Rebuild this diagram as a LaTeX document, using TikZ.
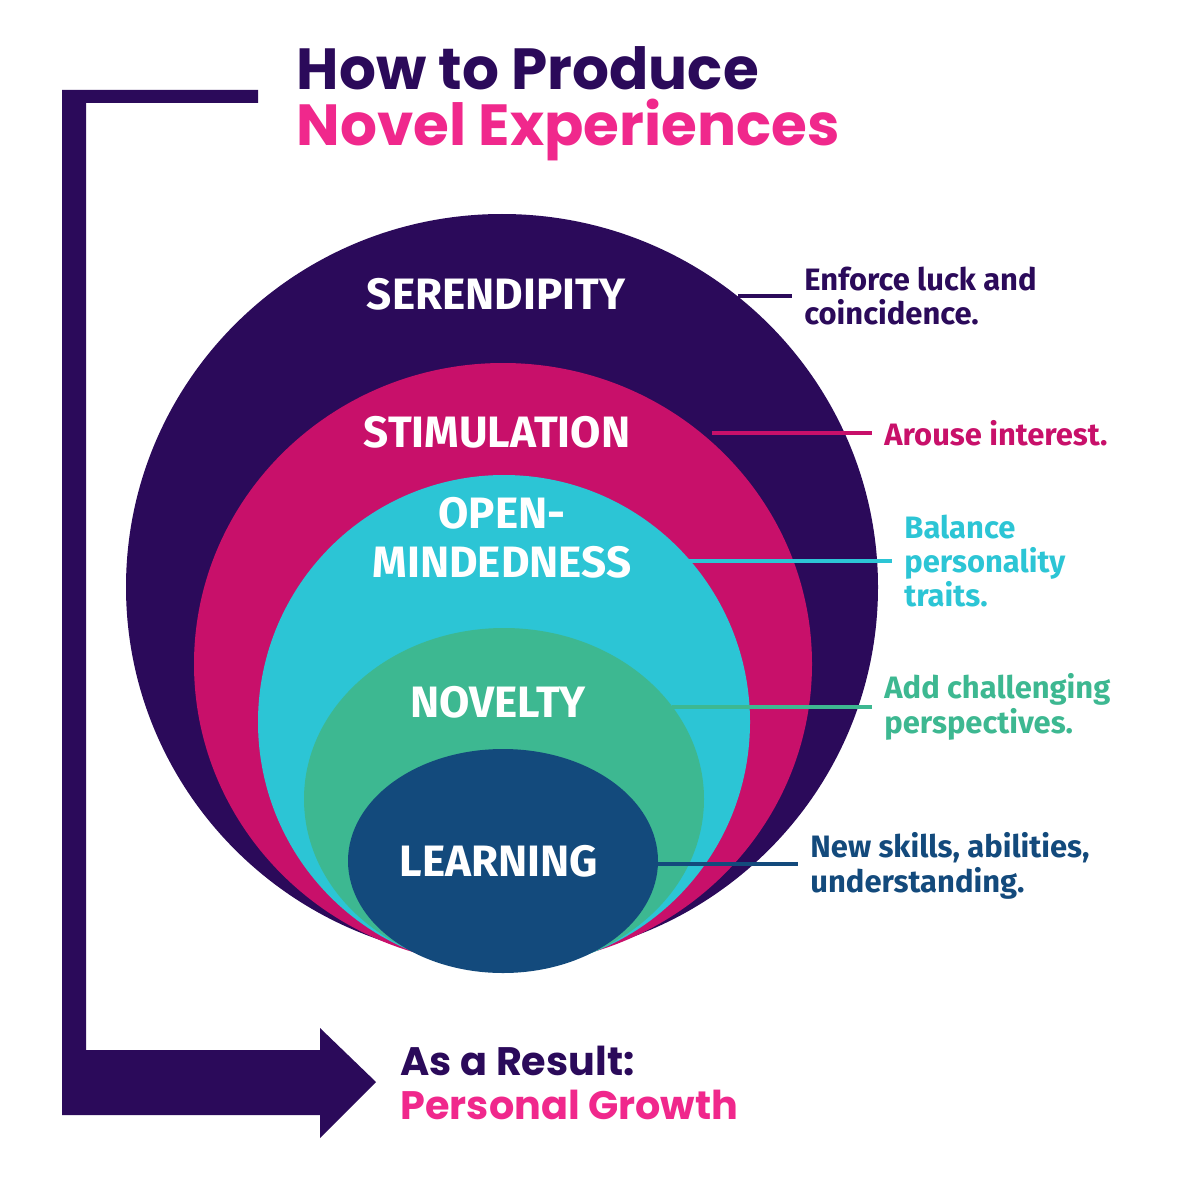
\documentclass[tikz,border=0pt]{standalone}
\usepackage{fontspec}
\setmainfont{Fira Sans}
\newfontfamily\titlef{Poppins}
\definecolor{dpurple}{HTML}{2B0A5A}
\definecolor{mag}{HTML}{C8106A}
\definecolor{pink}{HTML}{F0288C}
\definecolor{cyanc}{HTML}{2CC5D5}
\definecolor{greenc}{HTML}{3DB891}
\definecolor{bluec}{HTML}{134A7C}
\begin{document}
\begin{tikzpicture}[x=0.01cm,y=-0.01cm,
  lab/.style={text=white,font=\fontsize{12.5}{14}\selectfont\bfseries,align=center},
  side/.style={anchor=west,align=left,font=\fontsize{8.8}{9.8}\selectfont\bfseries},
  conn/.style={line width=1.1pt}]
\useasboundingbox (0,0) rectangle (1188,1188);
\fill[white] (0,0) rectangle (1188,1188);
\fill[dpurple] (502,587) ellipse [x radius=376,y radius=373];
\fill[mag] (503,664) ellipse [x radius=309,y radius=301];
\fill[cyanc] (504,722) ellipse [x radius=246,y radius=247];
\fill[greenc] (504,799) ellipse [x radius=200,y radius=171];
\fill[bluec] (503,861) ellipse [x radius=155,y radius=112];
\node[lab] (s1) at (496,294) {SERENDIPITY};
\node[lab] (s2) at (497,432) {STIMULATION};
\node[lab,text height=9pt] (s3) at (502,562) {OPEN-\\MINDEDNESS};
\node[lab] (s4) at (498,702) {NOVELTY};
\node[lab] (s5) at (499,861) {LEARNING};
% side texts
\node[side,text=dpurple] (t1) at (792,296) {Enforce luck and\\coincidence.};
\node[side,text=mag] (t2) at (872,433) {Arouse interest.};
\node[side,text=cyanc] (t3) at (892,561) {Balance\\personality\\traits.};
\node[side,text=greenc] (t4) at (872,707) {Add challenging\\perspectives.};
\node[side,text=bluec] (t5) at (798,866) {New skills, abilities,\\understanding.};
\coordinate (c1) at (738,296); \coordinate (c2) at (712,433);
\coordinate (c3) at (688,561); \coordinate (c4) at (672,707);
\coordinate (c5) at (658,864);
\draw[conn,dpurple] (c1) -- (t1.west|-c1);
\draw[conn,mag] (c2) -- (t2.west|-c2);
\draw[conn,cyanc] (c3) -- (t3.west|-c3);
\draw[conn,greenc] (c4) -- (t4.west|-c4);
\draw[conn,bluec] (c5) -- (t5.west|-c5);
% bracket arrow
\fill[dpurple] (258,90) -- (62,90) -- (62,1115) -- (320,1115) -- (320,1138) -- (376,1082) -- (320,1028) -- (320,1050) -- (86,1050) -- (86,103) -- (258,103) -- cycle;
% titles
\node[anchor=base west,inner sep=0,text=dpurple,font=\titlef\fontsize{16.5}{18}\selectfont\bfseries] (h1) at (296,90) {How to Produce};
\node[anchor=base west,inner sep=0,text=pink,font=\titlef\fontsize{16.5}{18}\selectfont\bfseries] (h2) at (296,146) {Novel Experiences};
\node[anchor=base west,inner sep=0,text=dpurple,font=\titlef\fontsize{11.3}{13}\selectfont\bfseries] (r1) at (400,1075) {As a Result:};
\node[anchor=base west,inner sep=0,text=pink,font=\titlef\fontsize{11.3}{13}\selectfont\bfseries] (r2) at (400,1119) {Personal Growth};
\end{tikzpicture}
\end{document}
